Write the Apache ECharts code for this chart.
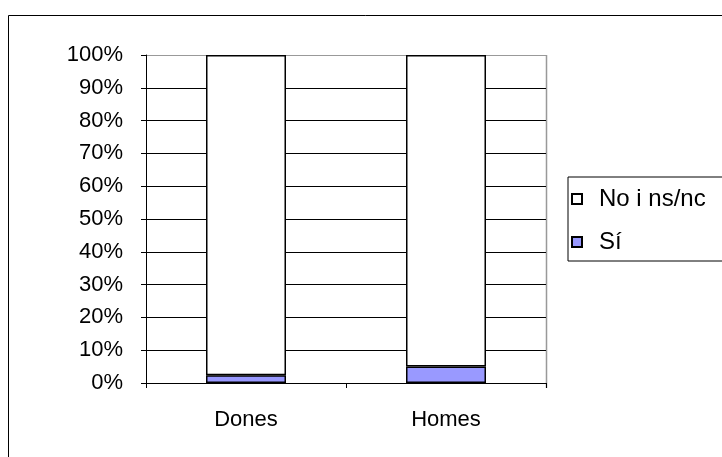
<!DOCTYPE html>
<html>
<head>
<meta charset="utf-8">
<script src="https://cdn.jsdelivr.net/npm/echarts@6/dist/echarts.min.js"></script>
<style>html,body{margin:0;padding:0;background:#fff}#c{width:722px;height:457px}</style>
</head>
<body>
<div id="c"></div>
<script>
var categories = ['Dones', 'Homes'];
var siValues = [2.4, 5.0];
var noValues = [97.6, 95.0];
var seriesNames = ['Sí', 'No i ns/nc'];

var font = 'Liberation Sans, Arial, sans-serif';
var chart = echarts.init(document.getElementById('c'));
var splitColors = [];
for (var i = 0; i < 10; i++) splitColors.push('#000');
splitColors.push('#999');

chart.setOption({
  animation: false,
  graphic: [{
    type: 'rect', left: 6, top: 13, silent: true,
    shape: { x: 0, y: 0, width: 800, height: 500 },
    style: { fill: 'none', stroke: '#000', lineWidth: 1 }
  }, {
    type: 'line', silent: true,
    shape: { x1: 546.5, y1: 55, x2: 546.5, y2: 388 },
    style: { stroke: '#999', lineWidth: 1.5 }
  }],
  grid: { left: 146, right: 176, top: 55, bottom: 74 },
  legend: {
    orient: 'vertical', left: 568, top: 177,
    data: [seriesNames[1], seriesNames[0]],
    icon: 'rect', itemWidth: 10, itemHeight: 10, itemGap: 19,
    padding: [10, 60, 7, 3],
    borderColor: '#000', borderWidth: 1,
    textStyle: { fontFamily: font, fontSize: 24, color: '#000', padding: [0, 0, 0, 12] }
  },
  xAxis: {
    type: 'category', data: categories,
    axisLine: { lineStyle: { color: '#000', width: 1 } },
    axisTick: { show: true, length: 5, lineStyle: { color: '#000' } },
    axisLabel: { fontFamily: font, fontSize: 22, color: '#000', margin: 26 }
  },
  yAxis: {
    type: 'value', min: 0, max: 100, interval: 10,
    axisLine: { show: true, lineStyle: { color: '#000', width: 1 } },
    axisTick: { show: true, length: 5, lineStyle: { color: '#000' } },
    axisLabel: { fontFamily: font, fontSize: 22, color: '#000', margin: 23, formatter: '{value}%' },
    splitLine: { show: true, lineStyle: { color: splitColors, width: 1 } }
  },
  series: [{
    name: seriesNames[0], type: 'bar', stack: 's', data: siValues, barWidth: '40%',
    itemStyle: { color: '#9999ff', borderColor: '#000', borderWidth: 1.5 }
  }, {
    name: seriesNames[1], type: 'bar', stack: 's', data: noValues, barWidth: '40%',
    itemStyle: { color: '#ffffff', borderColor: '#000', borderWidth: 1.5 }
  }]
});
</script>
</body>
</html>
